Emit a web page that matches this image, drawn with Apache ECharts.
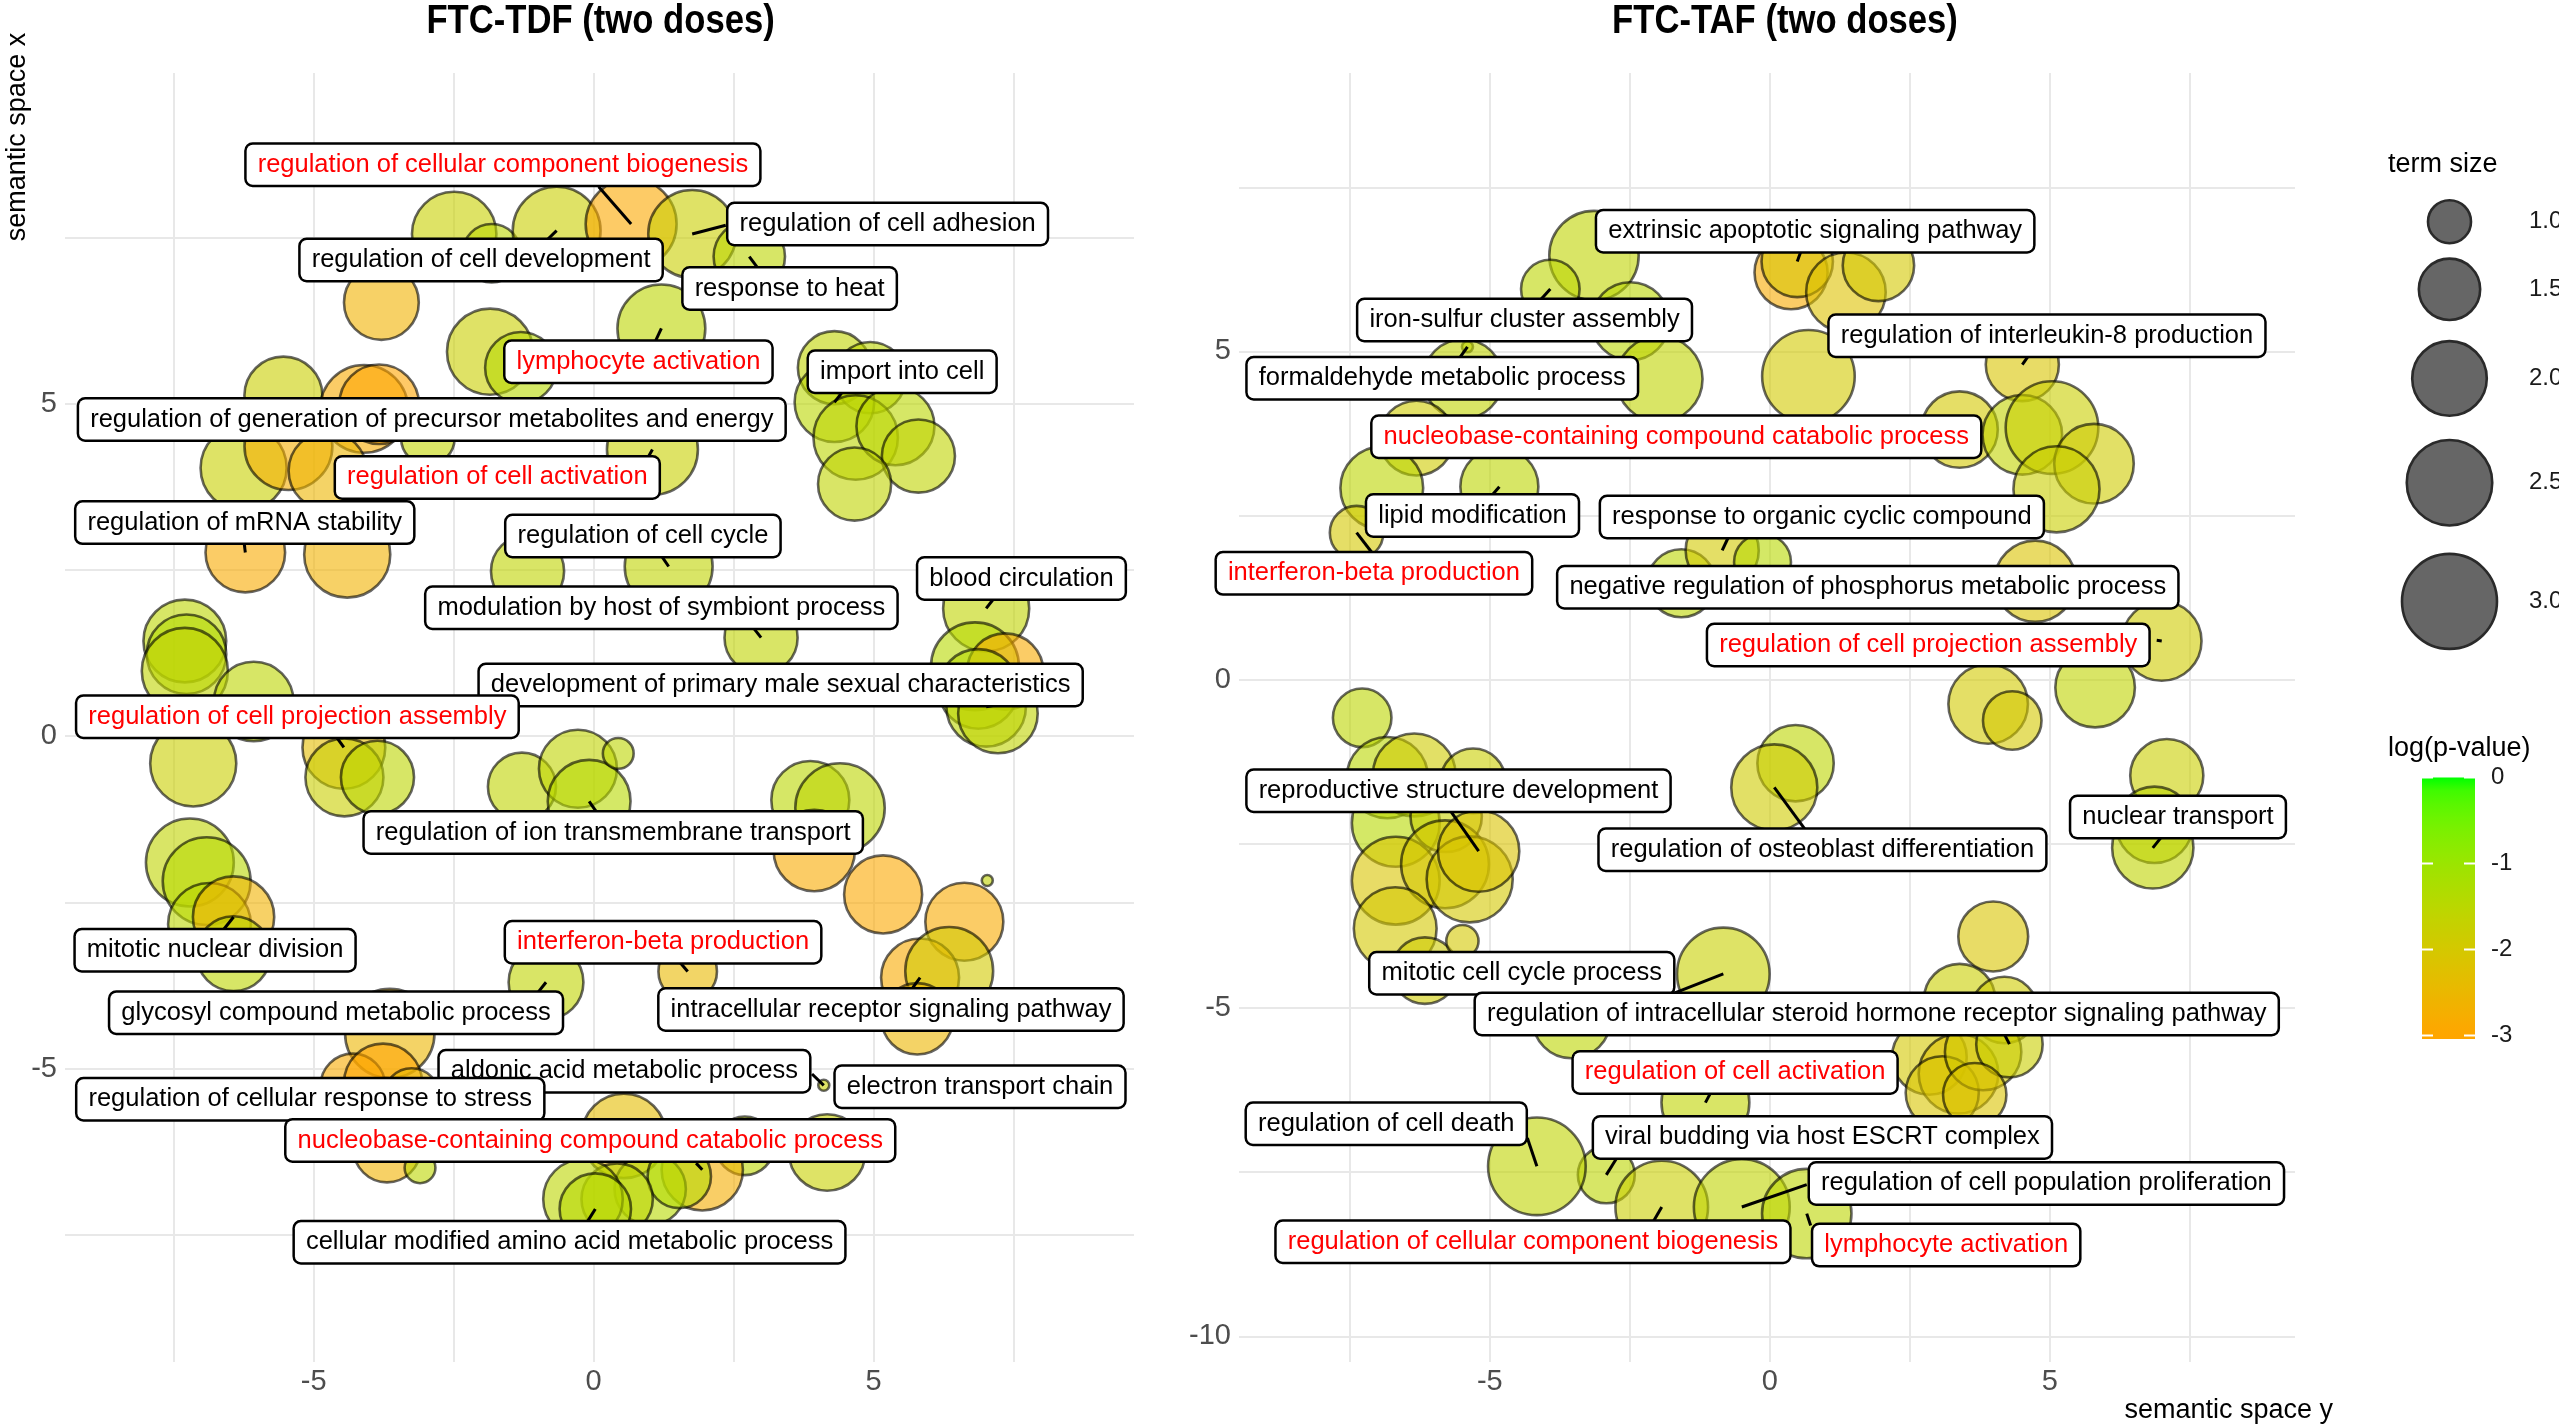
<!DOCTYPE html>
<html><head><meta charset="utf-8">
<script src="https://cdn.jsdelivr.net/npm/echarts@6/dist/echarts.min.js"></script>
<style>html,body{margin:0;padding:0;background:#fff;overflow:hidden}#c{width:2559px;height:1425px}</style>
</head><body><div id="c"></div>
<script>
// ---------------- DATA: FTC-TDF (left panel) ----------------
const tdfX = [-2.49,-1.82,-0.66,0.67,1.76,2.78,1.21,-3.79,-1.85,-1.30,
  -5.54,-4.10,-3.83,-6.25,-5.45,-4.75,-2.96,1.05,4.30,4.94,
  4.30,4.68,5.39,5.80,4.66,1.34,-1.18,2.99,7.01,6.81,
  7.35,6.87,7.01,7.22,-6.22,-4.40,-7.30,-7.27,-7.30,-6.07,
  -7.15,-4.46,-4.45,-3.86,-1.28,-0.28,-0.08,0.44,3.87,4.40,
  3.94,5.17,7.03,6.62,5.83,6.35,5.78,-7.21,-6.91,-6.86,
  -6.43,-6.43,-3.64,-4.30,-3.76,-3.25,-3.69,-3.10,-0.85,1.68,
  0.54,4.11,4.17,2.70,1.94,1.01,1.53,0.42,-0.19,0.03];
const tdfY = [7.55,7.26,7.60,7.70,7.55,7.21,6.13,6.52,5.78,5.54,
  5.12,4.92,4.99,4.03,4.36,3.99,4.48,4.31,5.54,5.39,
  5.02,4.49,4.66,4.21,3.79,2.55,2.48,1.48,1.92,1.05,
  0.97,0.71,0.44,0.34,2.76,2.73,1.43,1.23,0.98,0.52,
  -0.41,-0.17,-0.62,-0.62,-0.76,-0.49,-0.98,-0.26,-0.96,-1.08,
  -1.72,-2.38,-2.17,-2.79,-3.63,-3.53,-4.25,-1.90,-2.18,-2.83,
  -2.72,-3.27,-4.47,-5.26,-5.21,-5.41,-6.21,-6.49,-3.70,-3.54,
  -6.01,-5.25,-6.26,-6.16,-6.52,-6.81,-6.62,-6.96,-6.96,-7.11];
const tdfSize = [2.45,1.41,2.62,2.78,2.62,1.87,2.62,2.01,2.53,1.87,
  2.15,2.62,2.22,2.53,2.62,2.15,1.26,2.78,1.94,1.87,
  2.22,2.45,2.15,1.94,1.94,2.62,1.94,1.94,2.53,2.62,
  2.08,2.22,2.22,2.22,2.22,2.53,2.37,2.22,2.53,2.22,
  2.53,2.37,2.15,1.94,1.74,2.15,2.37,0.79,2.15,2.70,
  2.30,2.15,0.66,2.15,2.15,2.62,1.87,2.62,2.62,2.37,
  2.30,2.01,2.70,1.62,2.15,1.31,1.68,0.79,2.01,1.41,
  2.45,0.66,2.08,1.41,2.30,1.87,1.57,1.87,2.22,1.87];
const tdfLogP = [-1.75,-1.5,-1.8,-2.9,-1.8,-1.55,-1.55,-2.65,-1.8,-1.45,
  -1.8,-2.85,-3.0,-1.75,-2.75,-2.55,-1.65,-1.75,-1.6,-1.55,
  -1.5,-1.55,-1.5,-1.6,-1.6,-1.6,-1.6,-1.6,-1.6,-1.45,
  -2.85,-1.45,-1.55,-1.6,-2.85,-2.65,-1.55,-1.4,-1.6,-1.55,
  -1.8,-2.35,-1.8,-1.55,-1.6,-1.6,-1.45,-1.55,-1.5,-1.55,
  -2.85,-2.9,-1.6,-2.85,-2.85,-1.95,-2.55,-1.6,-1.45,-1.5,
  -2.65,-1.55,-2.55,-2.85,-3.0,-2.45,-2.65,-1.55,-1.6,-2.45,
  -2.35,-1.75,-1.75,-1.55,-2.75,-1.45,-1.4,-1.55,-1.55,-1.45];

const tdfLabels = ["regulation of cellular component biogenesis","regulation of cell adhesion","regulation of cell development","response to heat","lymphocyte activation","import into cell","regulation of generation of precursor metabolites and energy","regulation of cell activation","regulation of mRNA stability","regulation of cell cycle","modulation by host of symbiont process","blood circulation","development of primary male sexual characteristics","regulation of cell projection assembly","regulation of ion transmembrane transport","mitotic nuclear division","interferon-beta production","glycosyl compound metabolic process","intracellular receptor signaling pathway","aldonic acid metabolic process","electron transport chain","regulation of cellular response to stress","nucleobase-containing compound catabolic process","cellular modified amino acid metabolic process"];
const tdfLabelTerm = [3,4,2,5,6,20,10,17,34,25,27,28,32,41,46,60,69,68,54,71,71,64,74,79];
const tdfLabelX = [-1.62,5.25,-2.01,3.50,0.80,5.51,-2.89,-1.72,-6.23,0.88,1.21,7.64,3.34,-5.29,0.35,-6.76,1.24,-4.60,5.31,0.55,6.90,-5.06,-0.06,-0.43];
const tdfLabelY = [8.59,7.70,7.16,6.73,5.63,5.48,4.76,3.89,3.21,3.01,1.93,2.37,0.77,0.29,-1.45,-3.22,-3.10,-4.16,-4.11,-5.04,-5.27,-5.46,-6.08,-7.61];
const tdfSegX = [0.09,2.36,-0.82,2.93,1.11,4.46,null,0.97,-6.24,1.22,2.86,7.13,7.20,-4.58,0.06,-6.60,1.54,-0.99,5.70,3.90,null,null,1.83,-0.12];
const tdfSegY = [8.26,7.68,7.47,7.04,5.95,5.19,null,4.19,2.90,2.70,1.62,2.05,0.47,-0.03,-1.15,-2.90,-3.40,-3.85,-3.78,-5.08,null,null,-6.42,-7.31];
const tdfRed = ["regulation of cellular component biogenesis","lymphocyte activation","regulation of cell activation","regulation of cell projection assembly","interferon-beta production","nucleobase-containing compound catabolic process"];

// ---------------- DATA: FTC-TAF (right panel) ----------------
const tafX = [-3.14,-3.92,-2.49,-1.97,-5.40,-5.48,-6.31,-6.93,-4.83,-7.38,
  -1.58,-0.85,-0.13,0.38,0.49,1.36,1.94,0.69,3.39,4.51,
  4.51,5.04,5.79,5.12,4.74,7.00,5.81,3.90,4.33,-7.28,
  -6.83,-6.35,-5.30,-6.68,-5.78,-6.68,-5.80,-5.36,-5.20,-6.69,
  -6.16,-5.49,-0.83,0.46,0.08,7.09,6.87,6.84,3.99,3.39,
  4.19,2.85,3.37,3.08,3.81,4.28,3.66,-1.15,-3.54,-2.92,
  -4.16,-1.93,-0.50,0.66];
const tafY = [6.46,5.95,5.46,4.58,5.07,4.58,3.68,2.92,2.94,2.24,
  1.47,1.97,1.79,6.20,6.37,5.90,6.31,4.62,3.81,4.80,
  3.73,3.84,3.29,2.90,1.50,0.59,-0.12,-0.37,-0.62,-0.58,
  -1.49,-1.45,-1.54,-2.18,-2.08,-3.06,-2.81,-3.04,-2.61,-3.79,
  -4.43,-3.98,-4.48,-1.27,-1.64,-1.46,-2.21,-2.56,-3.91,-4.87,
  -5.03,-5.75,-6.00,-6.29,-5.67,-5.55,-6.32,-6.44,-5.17,-7.54,
  -7.41,-8.03,-8.03,-8.13];
const tafSize = [2.70,1.41,2.15,2.53,0.66,2.22,2.01,2.37,2.15,1.26,
  1.74,1.94,1.36,1.94,1.87,2.22,1.87,2.87,2.08,1.94,
  2.22,2.87,2.22,2.53,2.30,2.22,2.22,2.22,1.41,1.41,
  2.30,2.37,1.62,2.62,1.87,2.62,2.62,2.53,2.30,2.37,
  1.68,0.81,2.87,2.08,2.53,1.94,2.08,2.30,1.81,1.87,
  1.68,2.01,2.22,1.94,2.08,1.68,1.57,2.62,2.15,1.36,
  3.15,2.87,3.05,2.70];
const tafLogP = [-1.6,-1.55,-1.5,-1.6,-1.6,-1.6,-1.9,-1.55,-1.55,-2.0,
  -1.55,-1.95,-1.45,-2.85,-2.1,-2.2,-2.0,-1.95,-2.0,-2.1,
  -1.65,-1.8,-1.9,-1.8,-2.15,-1.9,-1.6,-1.95,-2.0,-1.55,
  -1.5,-1.9,-1.8,-1.45,-1.75,-2.1,-2.0,-2.0,-2.15,-2.0,
  -1.9,-2.0,-1.75,-1.55,-1.9,-1.8,-1.55,-1.6,-2.1,-1.8,
  -1.9,-2.0,-2.2,-2.1,-1.95,-1.8,-2.15,-1.6,-1.55,-1.55,
  -1.6,-1.8,-1.6,-1.55];

const tafLabels = ["extrinsic apoptotic signaling pathway","iron-sulfur cluster assembly","regulation of interleukin-8 production","formaldehyde metabolic process","nucleobase-containing compound catabolic process","lipid modification","response to organic cyclic compound","interferon-beta production","negative regulation of phosphorus metabolic process","regulation of cell projection assembly","reproductive structure development","nuclear transport","regulation of osteoblast differentiation","mitotic cell cycle process","regulation of intracellular steroid hormone receptor signaling pathway","regulation of cell activation","regulation of cell death","viral budding via host ESCRT complex","regulation of cell population proliferation","regulation of cellular component biogenesis","lymphocyte activation"];
const tafLabelTerm = [14,1,19,4,6,8,11,9,24,25,38,47,44,42,55,57,60,59,62,61,63];
const tafLabelX = [0.81,-4.38,4.95,-5.85,-1.67,-5.31,0.93,-7.07,1.75,2.83,-5.56,7.29,0.94,-4.43,1.91,-0.62,-6.85,0.94,4.94,-4.23,3.15];
const tafLabelY = [6.83,5.48,5.24,4.59,3.70,2.50,2.48,1.62,1.41,0.53,-1.69,-2.09,-2.59,-4.47,-5.09,-5.98,-6.76,-6.97,-7.67,-8.56,-8.61];
const tafSegX = [0.55,-4.09,4.61,-5.54,null,-4.95,-0.74,-7.10,null,6.91,-5.70,6.99,0.63,-1.73,4.19,-1.05,-4.33,-2.73,0.66,-2.08,0.73];
const tafSegY = [6.51,5.79,4.92,4.90,null,2.82,2.17,1.93,null,0.60,-2.00,-2.40,-2.28,-4.78,-5.40,-6.28,-6.98,-7.28,-7.69,-8.25,-8.31];
const tafRed = ["nucleobase-containing compound catabolic process","interferon-beta production","regulation of cell projection assembly","regulation of cell activation","regulation of cellular component biogenesis","lymphocyte activation"];

// axis ticks / legend breaks
const gridTicks = [-7.5,-5,-2.5,0,2.5,5,7.5];
const tickLabels = [-5,0,5];
const tafGridTicksY = [-10,-7.5,-5,-2.5,0,2.5,5,7.5];
const tafTickLabelsY = [-10,-5,0,5];
const sizeBreaks = [1.0,1.5,2.0,2.5,3.0];
const pBreaks = [0,-1,-2,-3];

// ---------------- scales ----------------
function sizeFn(v){ return 13 + 54.9*Math.sqrt(Math.max(0, v-0.66)); }
function hex2rgb(h){return [parseInt(h.slice(1,3),16),parseInt(h.slice(3,5),16),parseInt(h.slice(5,7),16)];}
function s2l(c){c/=255;return c<=0.04045?c/12.92:Math.pow((c+0.055)/1.055,2.4);}
function l2s(c){c=c<=0.0031308?12.92*c:1.055*Math.pow(c,1/2.4)-0.055;return Math.round(Math.max(0,Math.min(1,c))*255);}
function rgb2lab(rgb){const [r,g,b]=rgb.map(s2l);const x=(0.4124*r+0.3576*g+0.1805*b)/0.95047,y=0.2126*r+0.7152*g+0.0722*b,z=(0.0193*r+0.1192*g+0.9505*b)/1.08883;const f=t=>t>0.008856?Math.cbrt(t):7.787*t+16/116;const fx=f(x),fy=f(y),fz=f(z);return [116*fy-16,500*(fx-fy),200*(fy-fz)];}
function lab2rgb(lab){const fy=(lab[0]+16)/116,fx=fy+lab[1]/500,fz=fy-lab[2]/200;const fi=t=>t*t*t>0.008856?t*t*t:(t-16/116)/7.787;const x=fi(fx)*0.95047,y=fi(fy),z=fi(fz)*1.08883;const r=3.2406*x-1.5372*y-0.4986*z,g=-0.9689*x+1.8758*y+0.0415*z,b=0.0557*x-0.2040*y+1.0570*z;return 'rgb('+[r,g,b].map(l2s).join(',')+')';}
const LOW = rgb2lab(hex2rgb('#FFA500')), HIGH = rgb2lab(hex2rgb('#00FF00'));
function colorAt(v){let t=(v+3)/3;t=Math.max(0,Math.min(1,t));return lab2rgb([0,1,2].map(i=>LOW[i]+(HIGH[i]-LOW[i])*t));}
const colorStops = []; for(let i=0;i<=12;i++) colorStops.push(colorAt(-3+3*i/12));

// ---------------- build series ----------------
function terms(X,Y,S,P){return X.map((x,i)=>[x,Y[i],S[i],P[i]]);}
function labelData(names,LX,LY,red){return names.map((n,i)=>({value:[LX[i],LY[i]],name:n,label:{color:red.indexOf(n)>=0?'#ff0000':'#000000'}}));}
function segData(X,Y,term,SX,SY){const out=[];term.forEach((t,i)=>{if(SX[i]!==null) out.push({coords:[[X[t],Y[t]],[SX[i],SY[i]]]});});return out;}

const FONT = '"Liberation Sans", Arial, sans-serif';
function circleSeries(idx,data){return {type:'scatter',xAxisIndex:idx,yAxisIndex:idx,data:data,z:2,zlevel:0,silent:true,
  symbolSize:v=>sizeFn(v[2])-2,
  itemStyle:{opacity:0.6,borderColor:'#000',borderWidth:2.6},emphasis:{disabled:true}};}
function segSeries(idx,data){return {type:'lines',coordinateSystem:'cartesian2d',xAxisIndex:idx,yAxisIndex:idx,data:data,z:3,zlevel:1,silent:true,
  lineStyle:{color:'#000',width:3,opacity:1},emphasis:{disabled:true}};}
function labSeries(idx,data){return {type:'scatter',xAxisIndex:idx,yAxisIndex:idx,data:data,z:10,zlevel:2,silent:true,symbolSize:0,
  itemStyle:{color:'rgba(255,255,255,0)',opacity:1},emphasis:{disabled:true},
  label:{show:true,opacity:1,position:'inside',formatter:'{b}',fontSize:25.5,fontFamily:FONT,lineHeight:26,
    backgroundColor:'#ffffff',borderColor:'#000',borderWidth:2.5,borderRadius:6,padding:[7,11,7,11]}};}

function axisX(idx,min,max){return {type:'value',gridIndex:idx,min:min,max:max,
  axisLine:{show:false},axisTick:{show:false,customValues:gridTicks},
  axisLabel:{customValues:tickLabels,color:'#4d4d4d',fontSize:29,fontFamily:FONT,margin:5},
  splitLine:{show:true,lineStyle:{color:'#e8e8e8',width:2}}};}
function axisY(idx,min,max,ticks,labs){return {type:'value',gridIndex:idx,min:min,max:max,
  axisLine:{show:false},axisTick:{show:false,customValues:ticks},
  axisLabel:{customValues:labs,color:'#4d4d4d',fontSize:29,fontFamily:FONT,margin:8},
  splitLine:{show:true,lineStyle:{color:'#e8e8e8',width:2}}};}

// ---------------- legends (graphic) ----------------
const graphics = [];
function txt(x,y,text,size,opts){return {type:'text',x:x,y:y,silent:true,style:Object.assign({text:text,fill:'#000',fontSize:size,fontFamily:FONT,align:'left',verticalAlign:'middle',textAlign:'left',textVerticalAlign:'middle'},opts||{})};}
const t1 = txt(600.6,22,'FTC-TDF (two doses)',41,{fontWeight:'bold',align:'center',textAlign:'center'}); t1.scaleX=0.845; graphics.push(t1);
const t2 = txt(1785,22,'FTC-TAF (two doses)',41,{fontWeight:'bold',align:'center',textAlign:'center'}); t2.scaleX=0.845; graphics.push(t2);
const ax = txt(17.5,137,'semantic space x',27,{align:'center',textAlign:'center'}); ax.rotation=Math.PI/2; graphics.push(ax);
graphics.push(txt(2333,1411,'semantic space y',27,{align:'right',textAlign:'right'}));
// size legend
graphics.push(txt(2388,165,'term size',27));
const sizeY = [221.7,289.3,378.4,482.7,601.4];
sizeBreaks.forEach((b,i)=>{
  graphics.push({type:'circle',silent:true,shape:{cx:2449.5,cy:sizeY[i],r:(sizeFn(b)-2)/2},style:{fill:'#666666',stroke:'#2a2a2a',lineWidth:2.6}});
  graphics.push(txt(2529,sizeY[i],b.toFixed(1),24,{fill:'#1a1a1a'}));
});
// colour legend
graphics.push(txt(2388,749,'log(p-value)',27));
const barTop=777.5, unit=86, barBot=barTop+unit*3.04;
const gstops=[]; for(let i=0;i<=20;i++){const v=-3.04*i/20;gstops.push({offset:i/20,color:colorAt(v)});}
graphics.push({type:'rect',silent:true,shape:{x:2422,y:barTop,width:53,height:barBot-barTop},style:{fill:new echarts.graphic.LinearGradient(0,0,0,1,gstops)}});
pBreaks.forEach(b=>{
  const y=barTop-b*unit;
  graphics.push({type:'line',silent:true,shape:{x1:2422,y1:y,x2:2433,y2:y},style:{stroke:'#fff',lineWidth:2}});
  graphics.push({type:'line',silent:true,shape:{x1:2464,y1:y,x2:2475,y2:y},style:{stroke:'#fff',lineWidth:2}});
  graphics.push(txt(2491,y,String(b),24,{fill:'#1a1a1a'}));
});

const chart = echarts.init(document.getElementById('c'),null,{renderer:'canvas'});
chart.setOption({
  animation:false,
  backgroundColor:'#ffffff',
  grid:[{left:65,top:73,width:1069,height:1289},{left:1239,top:73,width:1056,height:1289}],
  xAxis:[axisX(0,-9.44,9.65),axisX(1,-9.48,9.38)],
  yAxis:[axisY(0,-9.41,9.97,gridTicks,tickLabels),axisY(1,-10.39,9.24,tafGridTicksY,tafTickLabelsY)],
  visualMap:{show:false,type:'continuous',min:-3,max:0,dimension:3,seriesIndex:[0,1],inRange:{color:colorStops}},
  series:[
    circleSeries(0,terms(tdfX,tdfY,tdfSize,tdfLogP)),
    circleSeries(1,terms(tafX,tafY,tafSize,tafLogP)),
    segSeries(0,segData(tdfX,tdfY,tdfLabelTerm,tdfSegX,tdfSegY)),
    segSeries(1,segData(tafX,tafY,tafLabelTerm,tafSegX,tafSegY)),
    labSeries(0,labelData(tdfLabels,tdfLabelX,tdfLabelY,tdfRed)),
    labSeries(1,labelData(tafLabels,tafLabelX,tafLabelY,tafRed))
  ],
  graphic:{elements:graphics}
});
</script></body></html>
